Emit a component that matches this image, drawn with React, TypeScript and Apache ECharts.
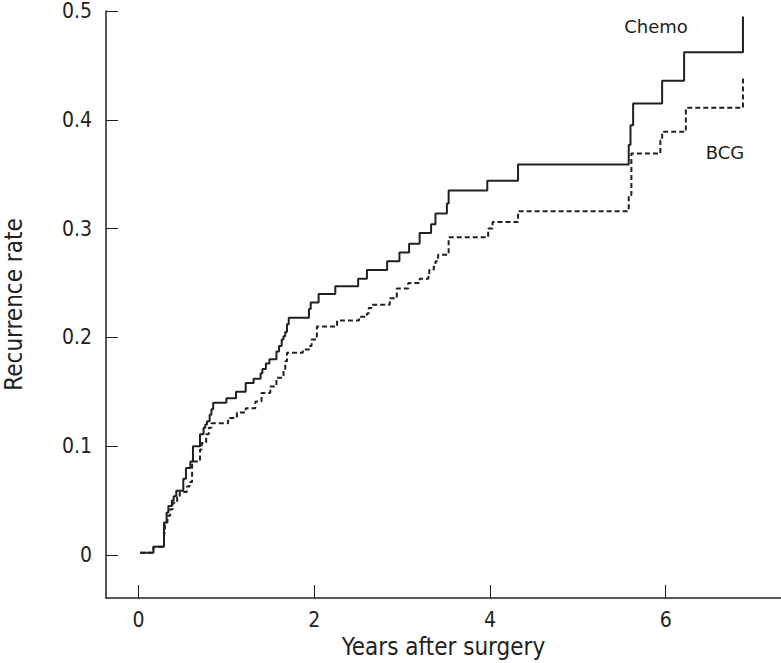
import React, { useEffect, useRef } from "react";
import * as echarts from "echarts";

const chemoTimes = [0.02,0.17,0.29,0.32,0.34,0.38,0.40,0.43,0.51,0.54,0.59,0.62,0.70,0.74,0.76,0.78,0.81,0.83,0.85,1.00,1.11,1.22,1.31,1.39,1.41,1.45,1.49,1.57,1.60,1.63,1.65,1.67,1.69,1.71,1.94,1.96,2.05,2.24,2.50,2.60,2.83,2.97,3.08,3.20,3.33,3.38,3.51,3.53,3.97,4.32,5.58,5.60,5.63,5.96,6.21,6.88];
const chemoRates = [0.002,0.0076,0.030,0.039,0.045,0.050,0.054,0.059,0.070,0.080,0.086,0.100,0.111,0.117,0.120,0.123,0.129,0.134,0.140,0.144,0.150,0.158,0.162,0.167,0.171,0.176,0.180,0.187,0.192,0.198,0.201,0.205,0.212,0.218,0.226,0.232,0.240,0.247,0.254,0.262,0.270,0.278,0.286,0.296,0.304,0.314,0.323,0.335,0.344,0.359,0.377,0.395,0.415,0.436,0.462,0.495];

const bcgTimes = [0.02,0.17,0.29,0.30,0.33,0.36,0.39,0.44,0.47,0.55,0.58,0.61,0.70,0.72,0.77,0.80,0.83,1.02,1.12,1.22,1.33,1.40,1.50,1.57,1.65,1.67,1.69,1.87,1.95,1.97,2.03,2.26,2.51,2.60,2.62,2.65,2.86,2.94,3.07,3.20,3.30,3.31,3.36,3.38,3.41,3.53,3.98,4.03,4.32,5.58,5.61,5.94,5.96,6.23,6.88];
const bcgRates = [0.002,0.0076,0.020,0.030,0.036,0.042,0.048,0.053,0.058,0.063,0.067,0.086,0.097,0.103,0.111,0.117,0.121,0.126,0.131,0.135,0.141,0.149,0.155,0.163,0.170,0.178,0.186,0.189,0.192,0.198,0.210,0.2155,0.219,0.222,0.227,0.230,0.236,0.245,0.250,0.254,0.257,0.262,0.265,0.270,0.276,0.292,0.300,0.306,0.316,0.331,0.369,0.381,0.389,0.411,0.439];

const xTicks = [0, 2, 4, 6];
const yTicks = [0, 0.1, 0.2, 0.3, 0.4, 0.5];
const yTickLabels = ["0", "0.1", "0.2", "0.3", "0.4", "0.5"];

const FONT = "'DejaVu Sans', sans-serif";
const INK = "#231f20";

export default function App() {
  const ref = useRef<HTMLDivElement>(null);
  useEffect(() => {
    if (!ref.current) return;
    const chart = echarts.init(ref.current, null, { renderer: "svg" });
    const chemo = chemoTimes.map((t, i) => [t, chemoRates[i]]);
    const bcg = bcgTimes.map((t, i) => [t, bcgRates[i]]);
    chart.setOption({
      animation: false,
      backgroundColor: "#ffffff",
      grid: { left: 106, right: 0, top: 11, bottom: 65, containLabel: false, outerBoundsMode: "none" },
      xAxis: {
        type: "value",
        min: -0.37,
        max: 7.313,
        splitLine: { show: false },
        axisLine: { show: true, onZero: false, lineStyle: { color: INK, width: 1.5 } },
        axisTick: { show: true, inside: true, length: 13, customValues: xTicks, lineStyle: { color: INK, width: 1 } },
        axisLabel: { customValues: xTicks, color: INK, fontFamily: FONT, fontSize: 21, margin: 11, formatter: (v: number) => String(v) },
        name: "Years after surgery",
        nameLocation: "middle",
        nameGap: 36,
        nameTextStyle: { color: INK, fontFamily: FONT, fontSize: 24 },
      },
      yAxis: {
        type: "value",
        min: -0.0395,
        max: 0.5,
        splitLine: { show: false },
        axisLine: { show: true, onZero: false, lineStyle: { color: INK, width: 1.5 } },
        axisTick: { show: true, inside: true, length: 12, customValues: yTicks, lineStyle: { color: INK, width: 1 } },
        axisLabel: {
          customValues: yTicks,
          color: INK,
          fontFamily: FONT,
          fontSize: 21,
          lineHeight: 18,
          margin: 14,
          formatter: (v: number) => {
            const i = yTicks.findIndex((t) => Math.abs(t - v) < 1e-6);
            return i >= 0 ? yTickLabels[i] : "";
          },
        },
        name: "Recurrence rate",
        nameLocation: "middle",
        nameGap: 80,
        nameRotate: 90,
        nameTextStyle: { color: INK, fontFamily: FONT, fontSize: 24 },
      },
      series: [
        {
          name: "Chemo",
          type: "line",
          step: "end",
          data: chemo,
          showSymbol: false,
          symbol: "none",
          lineStyle: { color: INK, width: 2, type: "solid" },
        },
        {
          name: "BCG",
          type: "line",
          step: "end",
          data: bcg,
          showSymbol: false,
          symbol: "none",
          lineStyle: { color: INK, width: 2, type: [5, 3] },
        },
      ],
      graphic: [
        { type: "text", x: 656, y: 26, style: { text: "Chemo", fill: INK, font: `18px ${FONT}`, align: "center", verticalAlign: "middle" } },
        { type: "text", x: 725, y: 152, style: { text: "BCG", fill: INK, font: `18px ${FONT}`, align: "center", verticalAlign: "middle" } },
      ],
    });
    return () => chart.dispose();
  }, []);
  return (
    <>
      <style>{`#kmchart text { font-stretch: condensed; }`}</style>
      <div id="kmchart" ref={ref} style={{ width: 781, height: 663, position: "absolute", left: 0, top: 0 }} />
    </>
  );
}
